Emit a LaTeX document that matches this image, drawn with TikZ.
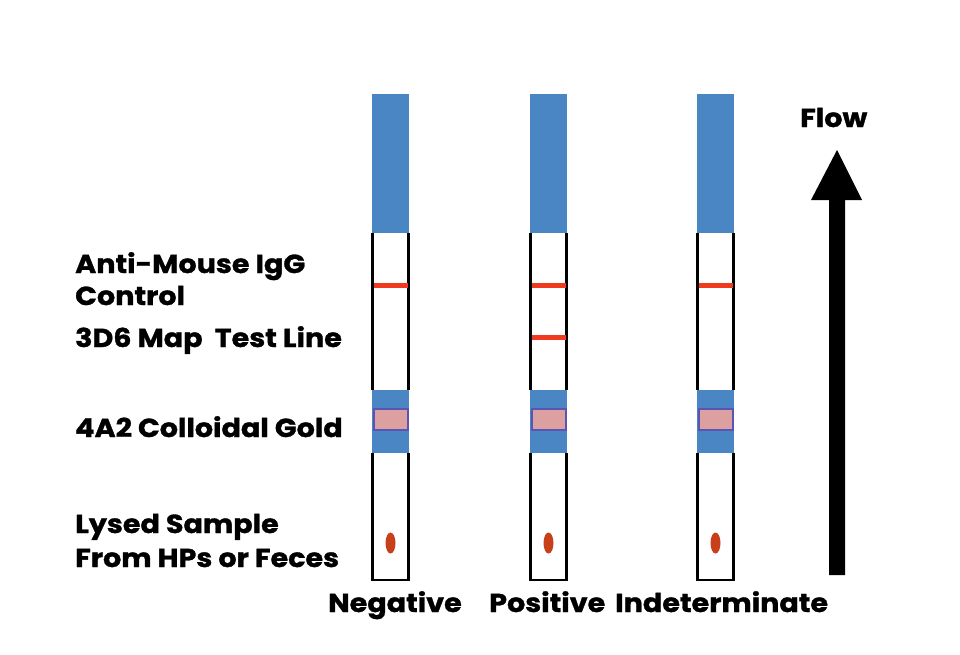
\documentclass[tikz,border=0pt]{standalone}
\usepackage{fontspec}
\setmainfont{Poppins}[FakeStretch=1.1, BoldFeatures={FakeBold=1.2}]
\usetikzlibrary{shapes.geometric}
\definecolor{stripblue}{HTML}{4A85C4}
\definecolor{testred}{HTML}{F03A20}
\definecolor{goldpink}{HTML}{DDA0A0}
\definecolor{goldedge}{HTML}{5A55B5}
\definecolor{dropred}{HTML}{C8401A}
\tikzset{
  lbl/.style={font=\fontsize{26}{31}\selectfont\bfseries, inner sep=0pt, anchor=base west},
  goldbox/.style={fill=goldpink, draw=goldedge, line width=2pt},
  drop/.style={ellipse, fill=dropred, draw=none, minimum width=10pt, minimum height=21pt, inner sep=0pt},
  edge/.style={line width=2.2pt, black},
}
\newcommand{\mystrip}[3]{%
  % #1 left x, #2 name, #3 show test line (1/0)
  \fill[stripblue] (#1pt,-94pt) rectangle ++(37pt,-139pt);
  \draw[edge] (#1pt+0.5pt,-233pt) -- (#1pt+0.5pt,-390pt);
  \draw[edge] (#1pt+36.5pt,-233pt) -- (#1pt+36.5pt,-390pt);
  \fill[stripblue] (#1pt,-390pt) rectangle ++(37pt,-63pt);
  \draw[goldbox] (#1pt+1.5pt,-409pt) rectangle ++(34pt,-21pt);
  \draw[edge] (#1pt+0.5pt,-453pt) -- (#1pt+0.5pt,-580pt) -- (#1pt+36.5pt,-580pt) -- (#1pt+36.5pt,-453pt);
  \fill[testred] (#1pt+1.5pt,-283pt) rectangle ++(34pt,-5pt);
  \ifnum#3=1 \fill[testred] (#1pt+1.5pt,-335pt) rectangle ++(34pt,-5pt);\fi
  \node[drop] (#2drop) at (#1pt+18.5pt,-543pt) {};
}
\begin{document}
\begin{tikzpicture}[x=1pt,y=1pt]
\useasboundingbox[fill=white] (0,0) rectangle (960,-654);
\mystrip{372}{neg}{0}
\mystrip{530}{pos}{1}
\mystrip{697}{ind}{0}
\node[lbl] (l1a) at (75,-273) {Anti-Mouse IgG};
\node[lbl] (l1b) at (75,-305) {Control};
\node[lbl] (l2) at (75,-347) {3D6 Map\ \ Test Line};
\node[lbl] (l3) at (75,-437) {4A2 Colloidal Gold};
\node[lbl] (l4a) at (75,-533) {Lysed Sample};
\node[lbl] (l4b) at (75,-567) {From HPs or Feces};
\node[lbl] (b1) at (328,-612) {Negative};
\node[lbl] (b2) at (489,-612) {Positive};
\node[lbl] (b3) at (615,-612) {Indeterminate};
\node[lbl] (flow) at (800,-127) {Flow};
\fill[black] (829,-575) -- (829,-200) -- (811,-200) -- (837,-150) -- (862,-200) -- (845,-200) -- (845,-575) -- cycle;
\end{tikzpicture}
\end{document}
